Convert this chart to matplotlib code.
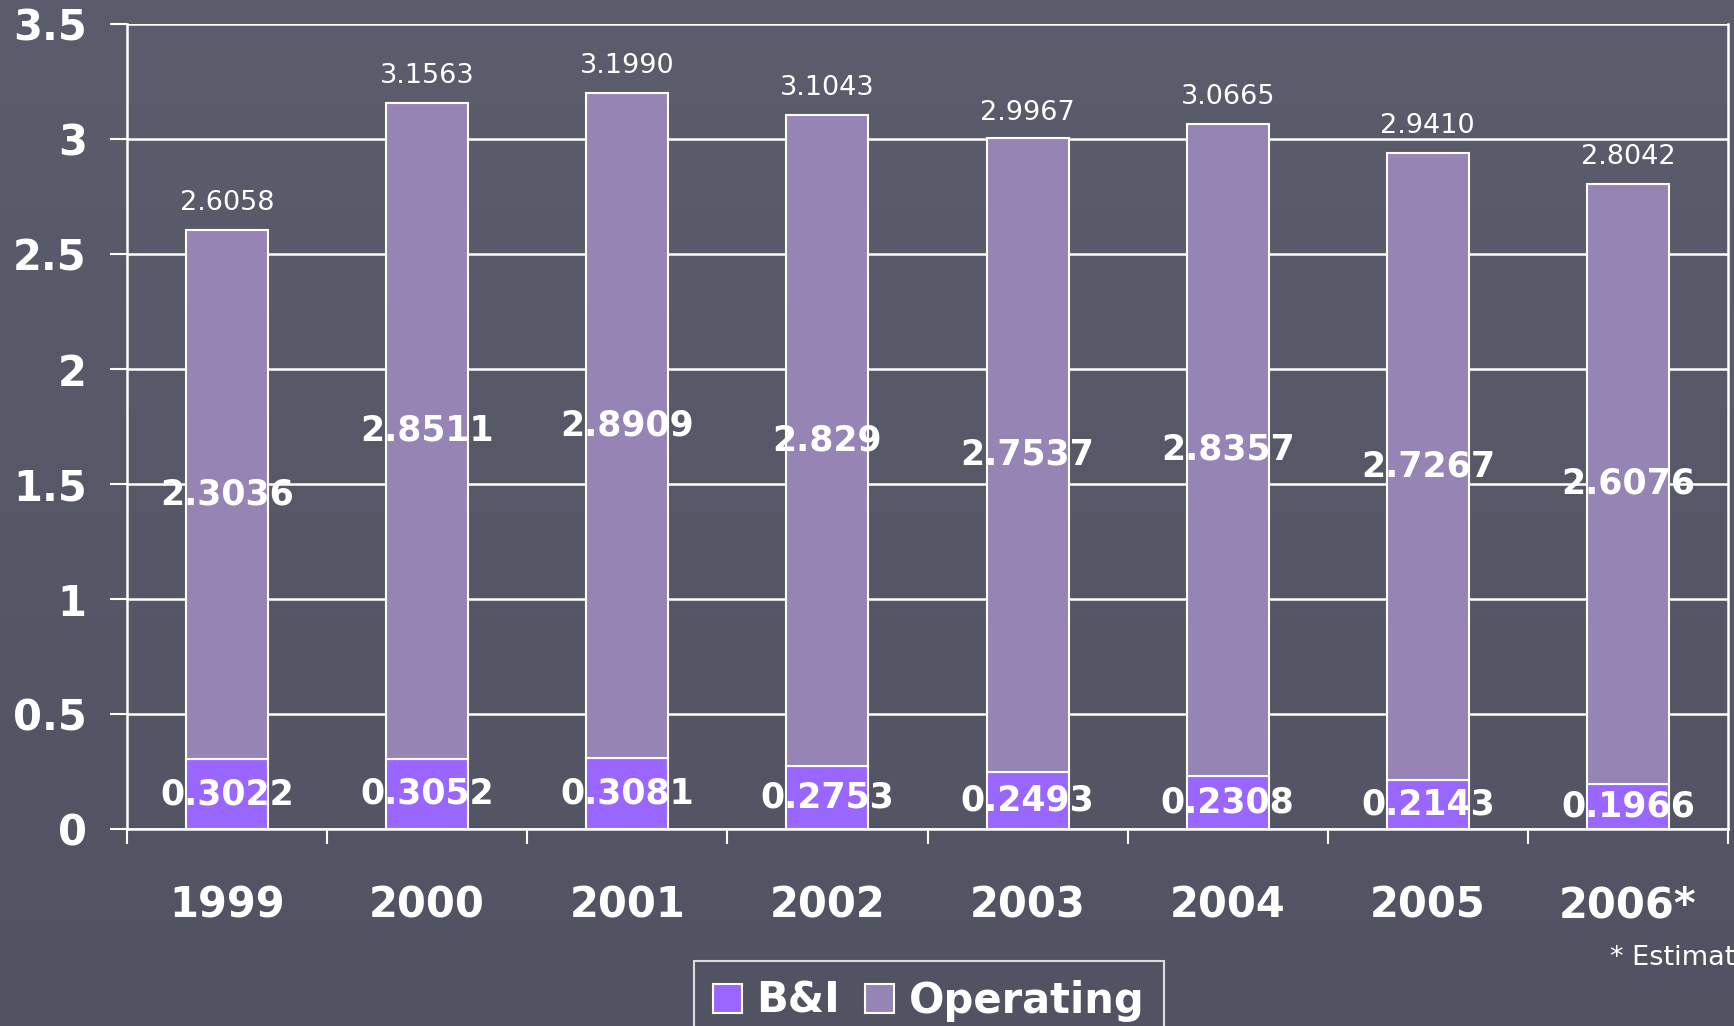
import numpy as np
import matplotlib.pyplot as plt
from matplotlib.patches import Patch
from matplotlib.colors import LinearSegmentedColormap

years = ["1999", "2000", "2001", "2002", "2003", "2004", "2005", "2006*"]
bi_values = [0.3022, 0.3052, 0.3081, 0.2753, 0.2493, 0.2308, 0.2143, 0.1966]
operating_values = [2.3036, 2.8511, 2.8909, 2.829, 2.7537, 2.8357, 2.7267, 2.6076]
total_values = [2.6058, 3.1563, 3.1990, 3.1043, 2.9967, 3.0665, 2.9410, 2.8042]
operating_labels = ["2.3036", "2.8511", "2.8909", "2.829", "2.7537", "2.8357", "2.7267", "2.6076"]
y_ticks = [0, 0.5, 1, 1.5, 2, 2.5, 3, 3.5]
y_tick_labels = ["0", "0.5", "1", "1.5", "2", "2.5", "3", "3.5"]

BG = '#565867'
BI_COLOR = '#9966ff'
OP_COLOR = '#9584b4'

plt.rcParams['font.family'] = ['DejaVu Sans']

fig = plt.figure(figsize=(17.34, 10.26), dpi=100, facecolor=BG)

# slight vertical gradient behind everything
bg_ax = fig.add_axes([0, 0, 1, 1], zorder=-10)
grad = np.linspace(0, 1, 256).reshape(-1, 1)
cmap = LinearSegmentedColormap.from_list('bg', ['#5b5d6c', '#515362'])
bg_ax.imshow(grad, aspect='auto', cmap=cmap, extent=[0, 1, 0, 1], origin='upper')
bg_ax.axis('off')

ax = fig.add_axes([127 / 1734, 1 - 829 / 1026, (1728 - 127) / 1734, (829 - 24) / 1026])
ax.set_facecolor('none')

x = np.arange(len(years))
w = 0.41
ax.bar(x, bi_values, w, color=BI_COLOR, edgecolor='white', linewidth=1.5, zorder=3)
ax.bar(x, operating_values, w, bottom=bi_values, color=OP_COLOR,
       edgecolor='white', linewidth=1.5, zorder=3)

for i in range(len(years)):
    ax.text(x[i], bi_values[i] / 2, f"{bi_values[i]:.4f}", ha='center', va='center',
            color='white', fontsize=25, fontweight='bold', zorder=5)
    ax.text(x[i], bi_values[i] + operating_values[i] / 2, operating_labels[i],
            ha='center', va='center', color='white', fontsize=25,
            fontweight='bold', zorder=5)
    ax.text(x[i], total_values[i] + 0.06, f"{total_values[i]:.4f}", ha='center',
            va='bottom', color='white', fontsize=19.5, zorder=5)

ax.set_xlim(-0.5, len(years) - 0.5)
ax.set_ylim(0, 3.5)
ax.set_yticks(y_ticks)
ax.set_yticklabels(y_tick_labels)
ax.set_xticks(x)
ax.set_xticklabels(years)
ax.set_xticks(np.arange(-0.5, len(years)), minor=True)
ax.tick_params(axis='x', which='major', length=0, pad=40, labelsize=30,
               labelcolor='white')
ax.tick_params(axis='x', which='minor', length=11, width=1.5, color='white')
ax.tick_params(axis='y', length=12, width=1.5, color='white', labelsize=30,
               labelcolor='white', pad=17)
for lbl in ax.get_xticklabels() + ax.get_yticklabels():
    lbl.set_fontweight('bold')

ax.grid(True, axis='y', color='white', linewidth=1.8, zorder=1)
for side in ['left', 'bottom', 'right']:
    ax.spines[side].set_color('white')
    ax.spines[side].set_linewidth(1.8)
ax.spines['top'].set_visible(False)

handles = [Patch(facecolor=BI_COLOR, edgecolor='white', linewidth=1.5, label='B&I'),
           Patch(facecolor=OP_COLOR, edgecolor='white', linewidth=1.5, label='Operating')]
leg = fig.legend(handles=handles, loc='upper left',
                 bbox_to_anchor=(694 / 1734, 1 - 961 / 1026), ncol=2,
                 frameon=True, fancybox=False, fontsize=30, handlelength=0.7,
                 handleheight=0.7, handletextpad=0.35, columnspacing=0.6,
                 borderpad=0.45, borderaxespad=0)
leg.get_frame().set_facecolor('none')
leg.get_frame().set_edgecolor('white')
leg.get_frame().set_linewidth(1.5)
for t in leg.get_texts():
    t.set_color('white')
    t.set_fontweight('bold')

fig.text(1610 / 1734, 1 - 958 / 1026, "* Estimates", color='white', fontsize=19.5,
         ha='left', va='center')

fig.savefig('out.png', dpi=100, facecolor=BG)
